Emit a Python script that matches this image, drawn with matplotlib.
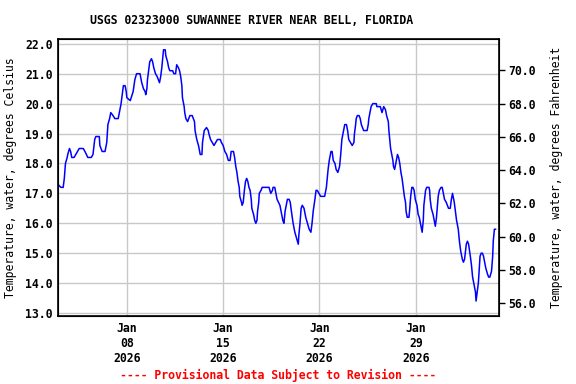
import numpy as np
import pandas as pd
import matplotlib
matplotlib.use("Agg")
import matplotlib.pyplot as plt
import matplotlib.dates as mdates

# hours since 2026-01-03 00:00 and water temperature (deg C)
hours = [0, 5, 9, 11, 13, 16, 17, 20, 22, 24, 28, 31, 37, 44, 47, 52, 58, 61, 64, 66,
         72, 73, 77, 82, 85, 87, 90, 92, 96, 99, 105, 107, 110, 112, 114, 117, 119, 120,
         126, 131, 134, 137, 143, 144, 146, 149, 152, 153, 155, 156, 158, 160, 163, 165,
         167, 170, 173, 177, 179, 181, 183, 184, 187, 188, 191, 193, 195, 200, 202, 205,
         207, 210, 212, 214, 216, 217, 219, 220, 221, 223, 226, 228, 230, 234, 236, 238,
         239, 242, 245, 246, 248, 251, 252, 255, 259, 262, 263, 266, 269, 272, 275, 278,
         283, 285, 288, 291, 294, 297, 300, 302, 306, 308, 310, 312, 314, 316, 317, 320,
         321, 323, 325, 327, 329, 331, 333, 335, 337, 338, 341, 343, 345, 347, 348, 350,
         351, 354, 356, 359, 368, 371, 374, 375, 378, 380, 382, 387, 389, 392, 394, 396,
         400, 403, 405, 407, 410, 413, 416, 419, 420, 422, 424, 426, 429, 432, 435, 438,
         441, 443, 445, 448, 450, 452, 455, 458, 465, 468, 471, 473, 476, 478, 480, 483,
         485, 488, 491, 493, 495, 498, 500, 503, 505, 507, 510, 513, 516, 517, 519, 520,
         522, 525, 527, 529, 531, 533, 539, 541, 542, 544, 546, 549, 555, 556, 562, 565,
         568, 571, 573, 576, 577, 579, 580, 582, 584, 585, 587, 589, 592, 594, 596, 598,
         600, 602, 604, 606, 607, 609, 612, 613, 615, 617, 619, 621, 623, 626, 628, 630,
         633, 635, 637, 638, 641, 643, 647, 648, 649, 651, 654, 656, 658, 660, 663, 665,
         668, 670, 672, 674, 677, 679, 681, 684, 686, 688, 691, 693, 695, 698, 700, 702,
         705, 707, 709, 712, 714, 716, 719, 721, 723, 726, 728, 729, 731, 733, 735, 736,
         738, 740, 742, 744, 746, 749, 751, 753, 756, 758, 759, 761, 763]
temp_c = [17.3, 17.2, 17.2, 17.5, 18.0, 18.2, 18.3, 18.5, 18.4, 18.2, 18.2, 18.3, 18.5, 18.5,
          18.4, 18.2, 18.2, 18.3, 18.8, 18.9, 18.9, 18.6, 18.4, 18.4, 18.7, 19.3, 19.5, 19.7,
          19.6, 19.5, 19.5, 19.7, 20.0, 20.3, 20.6, 20.6, 20.4, 20.2, 20.1, 20.4, 20.8, 21.0,
          21.0, 20.9, 20.7, 20.5, 20.4, 20.3, 20.5, 20.8, 21.1, 21.4, 21.5, 21.4, 21.2, 21.0,
          20.9, 20.7, 20.9, 21.2, 21.6, 21.8, 21.8, 21.6, 21.4, 21.2, 21.1, 21.1, 21.0, 21.0,
          21.3, 21.2, 21.1, 20.9, 20.6, 20.2, 20.0, 19.9, 19.7, 19.5, 19.4, 19.5, 19.6, 19.6,
          19.5, 19.4, 19.1, 18.8, 18.6, 18.5, 18.3, 18.3, 18.7, 19.1, 19.2, 19.1, 19.0, 18.8,
          18.7, 18.6, 18.7, 18.8, 18.8, 18.7, 18.6, 18.4, 18.3, 18.1, 18.1, 18.4, 18.4, 18.2,
          17.9, 17.7, 17.4, 17.2, 16.9, 16.7, 16.6, 16.7, 17.1, 17.4, 17.5, 17.4, 17.2, 17.1,
          16.8, 16.5, 16.3, 16.1, 16.0, 16.1, 16.4, 16.7, 17.0, 17.1, 17.2, 17.2, 17.2, 17.0,
          17.1, 17.2, 17.2, 17.0, 16.8, 16.6, 16.4, 16.1, 16.0, 16.4, 16.8, 16.8, 16.7, 16.4,
          16.0, 15.7, 15.5, 15.3, 15.6, 16.0, 16.5, 16.6, 16.5, 16.2, 16.0, 15.8, 15.7, 16.0,
          16.4, 16.8, 17.1, 17.1, 17.0, 16.9, 16.9, 17.2, 17.8, 18.1, 18.4, 18.4, 18.1, 18.0,
          17.8, 17.7, 17.9, 18.3, 18.8, 19.1, 19.3, 19.3, 19.1, 18.8, 18.7, 18.6, 18.7, 19.0,
          19.3, 19.5, 19.6, 19.6, 19.5, 19.3, 19.2, 19.1, 19.1, 19.3, 19.5, 19.7, 19.9, 20.0,
          20.0, 19.9, 19.9, 19.7, 19.9, 19.8, 19.6, 19.4, 19.1, 18.7, 18.5, 18.3, 18.1, 17.9,
          17.8, 18.0, 18.3, 18.2, 18.0, 17.7, 17.5, 17.2, 16.9, 16.7, 16.4, 16.2, 16.2, 16.4,
          16.9, 17.2, 17.2, 17.1, 16.8, 16.6, 16.3, 16.2, 15.9, 15.7, 16.1, 16.6, 17.1, 17.2,
          17.2, 17.1, 16.8, 16.5, 16.3, 16.1, 15.9, 16.2, 16.9, 17.1, 17.2, 17.2, 17.0, 16.8,
          16.7, 16.6, 16.5, 16.5, 16.8, 17.0, 16.7, 16.4, 16.1, 15.8, 15.4, 15.1, 14.8, 14.7,
          14.8, 15.3, 15.4, 15.3, 14.9, 14.6, 14.2, 13.9, 13.7, 13.4, 13.7, 14.0, 14.6, 14.9,
          15.0, 15.0, 14.9, 14.7, 14.5, 14.3, 14.2, 14.2, 14.4, 14.9, 15.4, 15.8, 15.8]

c_ticks = [13.0, 14.0, 15.0, 16.0, 17.0, 18.0, 19.0, 20.0, 21.0, 22.0]
f_ticks = [56.0, 58.0, 60.0, 62.0, 64.0, 66.0, 68.0, 70.0]
date_ticks = ["2026-01-08", "2026-01-15", "2026-01-22", "2026-01-29"]

times = pd.Timestamp("2026-01-03") + pd.to_timedelta(hours, unit="h")

plt.rcParams["font.family"] = "DejaVu Sans Mono"
plt.rcParams["font.weight"] = "bold"
plt.rcParams["font.size"] = 8.3

fig = plt.figure(figsize=(5.76, 3.84), dpi=100)
ax = fig.add_axes([0.1007, 0.1771, 0.7656, 0.7213])

ax.plot(times, temp_c, color="#0000ff", linewidth=1.1)

c_lo, c_hi = 12.9, 22.16
ax.set_ylim(c_lo, c_hi)
ax.set_xlim(pd.Timestamp("2026-01-03"), pd.Timestamp("2026-02-04 01:00"))
ax.set_yticks(c_ticks)
ax.set_yticklabels([f"{v:.1f}" for v in c_ticks])
ax.set_xticks(pd.to_datetime(date_ticks))
ax.xaxis.set_major_formatter(mdates.DateFormatter("%b\n%d\n%Y"))
ax.tick_params(axis="both", length=0, pad=4)
ax.grid(True, color="#c8c8c8", linewidth=1)
ax.set_axisbelow(True)
for sp in ax.spines.values():
    sp.set_linewidth(1.2)
ax.set_ylabel("Temperature, water, degrees Celsius", labelpad=6)

# Fahrenheit axis on the right
ax2 = ax.twinx()
ax2.set_ylim(c_lo * 1.8 + 32, c_hi * 1.8 + 32)
ax2.set_yticks(f_ticks)
ax2.set_yticklabels([f"{v:.1f}" for v in f_ticks])
ax2.tick_params(axis="y", length=4, width=1, pad=3)
ax2.set_ylabel("Temperature, water, degrees Fahrenheit", labelpad=10)

fig.text(252 / 576, 1 - 20 / 384, "USGS 02323000 SUWANNEE RIVER NEAR BELL, FLORIDA",
         ha="center", va="center")
fig.text(278 / 576, 1 - 375 / 384, "---- Provisional Data Subject to Revision ----",
         ha="center", va="center", color="red")

fig.savefig("out.png", dpi=100)
